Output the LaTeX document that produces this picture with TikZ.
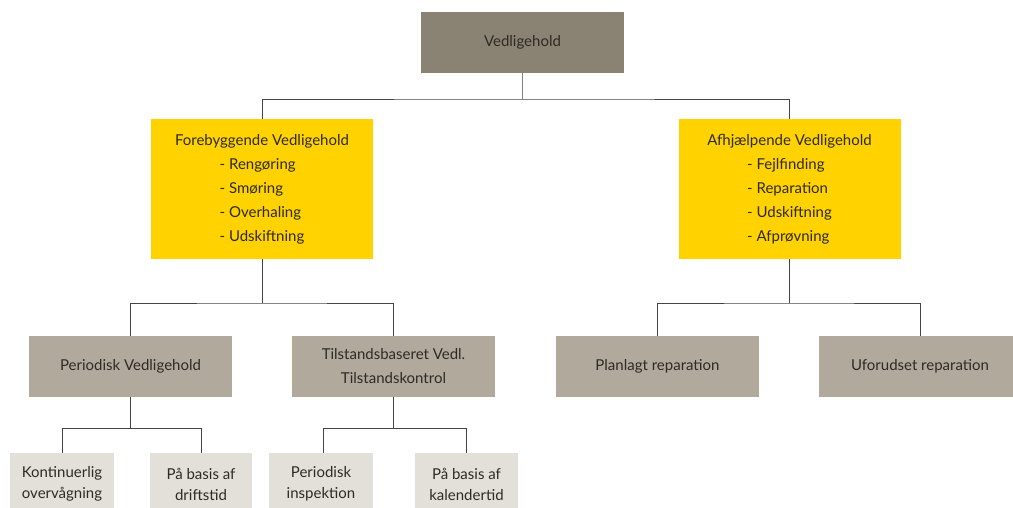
\documentclass[tikz,border=0pt]{standalone}
\usepackage{fontspec}
\setmainfont{Lato}
\definecolor{topc}{HTML}{8A8272}
\definecolor{yel}{HTML}{FFD200}
\definecolor{midc}{HTML}{B1A99C}
\definecolor{lowc}{HTML}{E3DFD9}
\definecolor{txt}{HTML}{2E2A26}
\definecolor{ln}{HTML}{444444}
\begin{document}
\begin{tikzpicture}[x=1pt,y=-1pt,
  box/.style={rectangle, inner sep=0pt, text=txt, align=center, font=\fontsize{15}{24}\selectfont},
  topbox/.style={box, fill=topc, minimum width=203pt, minimum height=61pt},
  yelbox/.style={box, fill=yel, minimum width=222pt, minimum height=140pt},
  midbox/.style={box, fill=midc, minimum width=203pt, minimum height=61pt},
  lowbox/.style={box, fill=lowc, minimum width=104pt, minimum height=62pt, font=\fontsize{15}{21}\selectfont},
  conn/.style={draw=ln, line width=1pt}]
\useasboundingbox (0,0) rectangle (1013,507);
\node[topbox] (top) at (522.5,42.5) {Vedligehold};
\node[yelbox] (fore) at (262,189) {\rule{0pt}{16pt}Forebyggende Vedligehold\\
  \begin{tabular}[t]{@{}l@{}}- Rengøring\\- Smøring\\- Overhaling\\- Udskiftning\end{tabular}};
\node[yelbox] (afh) at (789.5,189) {\rule{0pt}{16pt}Afhjælpende Vedligehold\\
  \begin{tabular}[t]{@{}l@{}}- Fejlfinding\\- Reparation\\- Udskiftning\\- Afprøvning\end{tabular}};
\node[midbox] (per) at (130.5,366.5) {Periodisk Vedligehold};
\node[midbox] (til) at (393.5,366.5) {Tilstandsbaseret Vedl.\\Tilstandskontrol};
\node[midbox] (plan) at (657.5,366.5) {Planlagt reparation};
\node[midbox] (ufo) at (920,366.5) {Uforudset reparation};
\node[lowbox] (kont) at (62,484) {Kontinuerlig\\overvågning};
\node[lowbox, minimum width=102pt] (drift) at (201,484) {På basis af\\driftstid};
\node[lowbox, minimum width=104pt] (insp) at (321,484) {Periodisk\\inspektion};
\node[lowbox, minimum width=103pt] (kal) at (466.5,484) {På basis af\\kalendertid};
\coordinate (j1) at (522.5,99);
\coordinate (j2) at (262,303);
\coordinate (j3) at (789.5,303);
\coordinate (j4) at (130.5,428.5);
\coordinate (j5) at (393.5,428.5);
\draw[conn, draw=gray] (top.south) -- (j1);
\draw[conn] (fore.north) |- (j1) -| (afh.north);
\draw[conn] (fore.south) -- (j2);
\draw[conn] (per.north) |- (j2) -| (til.north);
\draw[conn] (afh.south) -- (j3);
\draw[conn] (plan.north) |- (j3) -| (ufo.north);
\draw[conn] (per.south) -- (j4);
\draw[conn] (kont.north) |- (j4) -| (drift.north);
\draw[conn] (til.south) -- (j5);
\draw[conn] ([xshift=2.5pt]insp.north) |- (j5) -| (kal.north);
\end{tikzpicture}
\end{document}
